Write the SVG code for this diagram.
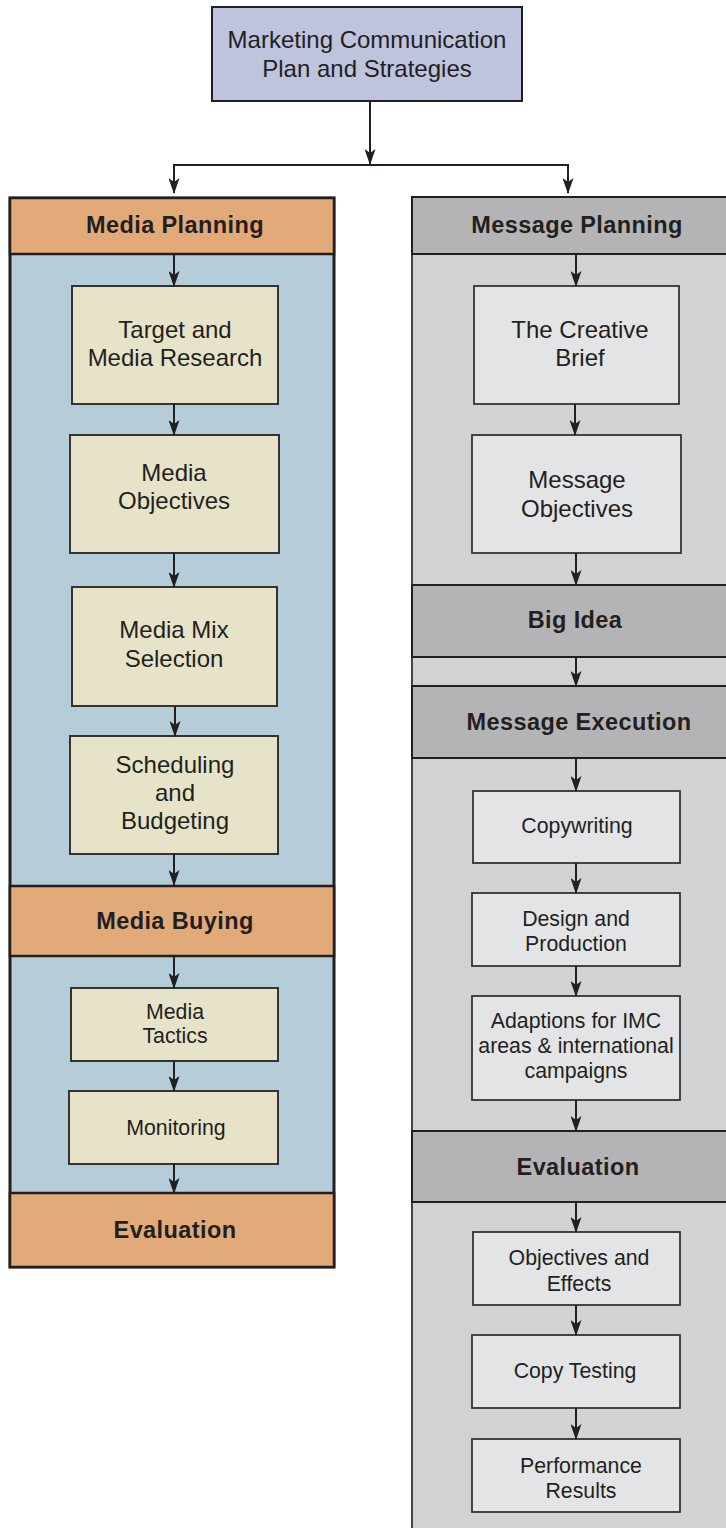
<svg xmlns="http://www.w3.org/2000/svg" width="726" height="1528" viewBox="0 0 726 1528">
<style>
text{font-family:"Liberation Sans",Arial,sans-serif;fill:#231f20;text-anchor:middle}
.t{font-size:24px}
.s{font-size:21.3px}
.h{font-size:23.5px;font-weight:bold;letter-spacing:0.4px}
.top{fill:#bec3de;stroke:#231f20;stroke-width:2}
.lp{fill:#b4cdd9;stroke:#231f20;stroke-width:3}
.lh{fill:#e3aa79;stroke:#231f20;stroke-width:2.5}
.lb{fill:#e6e3c8;stroke:#333;stroke-width:2}
.rp{fill:#d1d2d4;stroke:#444;stroke-width:2}
.rh{fill:#b4b4b6;stroke:#231f20;stroke-width:2}
.rb{fill:#e3e4e6;stroke:#333;stroke-width:1.8}
.c{fill:none;stroke:#231f20;stroke-width:2}
.a{marker-end:url(#ah)}
</style>
<defs>
<marker id="ah" viewBox="0 0 16 11" refX="15" refY="5.5" markerWidth="16" markerHeight="11" markerUnits="userSpaceOnUse" orient="auto">
<path d="M0,0 L16,5.5 L0,11 L4,5.5 z" fill="#231f20"/>
</marker>
</defs>
<rect width="726" height="1528" fill="#fff"/>

<g id="top">
<rect class="top" x="212" y="7" width="310" height="94"/>
<text class="t" x="367" y="48">Marketing Communication</text>
<text class="t" x="367" y="77">Plan and Strategies</text>
</g>

<g id="media-column">
<rect class="lp" x="10" y="198" width="324" height="1069"/>
<g id="media-planning"><rect class="lh" x="10" y="198" width="324" height="56"/><text class="h" x="175" y="233">Media Planning</text></g>
<g id="target-research"><rect class="lb" x="72" y="286" width="206" height="118"/><text class="t" x="175" y="338">Target and</text><text class="t" x="175" y="366">Media Research</text></g>
<g id="media-objectives"><rect class="lb" x="70" y="435" width="209" height="118"/><text class="t" x="174" y="481">Media</text><text class="t" x="174" y="509">Objectives</text></g>
<g id="media-mix"><rect class="lb" x="72" y="587" width="205" height="119"/><text class="t" x="174" y="638">Media Mix</text><text class="t" x="174" y="667">Selection</text></g>
<g id="scheduling"><rect class="lb" x="70" y="736" width="208" height="118"/><text class="t" x="175" y="773">Scheduling</text><text class="t" x="175" y="801">and</text><text class="t" x="175" y="829">Budgeting</text></g>
<g id="media-buying"><rect class="lh" x="10" y="886" width="324" height="70"/><text class="h" x="175" y="929">Media Buying</text></g>
<g id="media-tactics"><rect class="lb" x="71" y="988" width="207" height="73"/><text class="s" x="175" y="1019">Media</text><text class="s" x="175" y="1043">Tactics</text></g>
<g id="monitoring"><rect class="lb" x="69" y="1091" width="209" height="73"/><text class="s" x="176" y="1135">Monitoring</text></g>
<g id="media-evaluation"><rect class="lh" x="10" y="1193" width="324" height="74"/><text class="h" x="175" y="1238">Evaluation</text></g>
</g>

<g id="message-column">
<rect class="rp" x="412" y="197" width="330" height="1345"/>
<g id="message-planning"><rect class="rh" x="412" y="197" width="330" height="57"/><text class="h" x="577" y="233">Message Planning</text></g>
<g id="creative-brief"><rect class="rb" x="474" y="286" width="205" height="118"/><text class="t" x="580" y="338">The Creative</text><text class="t" x="580" y="366">Brief</text></g>
<g id="message-objectives"><rect class="rb" x="472" y="435" width="209" height="118"/><text class="t" x="577" y="488">Message</text><text class="t" x="577" y="517">Objectives</text></g>
<g id="big-idea"><rect class="rh" x="412" y="585" width="330" height="72"/><text class="h" x="575" y="628">Big Idea</text></g>
<g id="message-execution"><rect class="rh" x="412" y="686" width="330" height="72"/><text class="h" x="579" y="730">Message Execution</text></g>
<g id="copywriting"><rect class="rb" x="473" y="791" width="207" height="72"/><text class="s" x="577" y="833">Copywriting</text></g>
<g id="design-production"><rect class="rb" x="472" y="893" width="208" height="73"/><text class="s" x="576" y="926">Design and</text><text class="s" x="576" y="951">Production</text></g>
<g id="adaptions"><rect class="rb" x="472" y="996" width="208" height="104"/><text class="s" x="576" y="1028">Adaptions for IMC</text><text class="s" x="576" y="1053">areas &amp; international</text><text class="s" x="576" y="1078">campaigns</text></g>
<g id="message-evaluation"><rect class="rh" x="412" y="1131" width="330" height="71"/><text class="h" x="578" y="1175">Evaluation</text></g>
<g id="objectives-effects"><rect class="rb" x="473" y="1232" width="207" height="73"/><text class="s" x="579" y="1265">Objectives and</text><text class="s" x="579" y="1291">Effects</text></g>
<g id="copy-testing"><rect class="rb" x="472" y="1335" width="208" height="73"/><text class="s" x="575" y="1378">Copy Testing</text></g>
<g id="performance-results"><rect class="rb" x="472" y="1439" width="208" height="73"/><text class="s" x="581" y="1473">Performance</text><text class="s" x="581" y="1498">Results</text></g>
</g>

<g id="connectors">
<path class="c a" d="M370,101 V164"/>
<path class="c" d="M173,165 H568"/>
<path class="c a" d="M174,164 V193"/>
<path class="c a" d="M568,164 V193"/>

<path class="c a" d="M174,254 V286"/>
<path class="c a" d="M174,404 V435"/>
<path class="c a" d="M174,553 V587"/>
<path class="c a" d="M175,706 V736"/>
<path class="c a" d="M174,854 V885"/>
<path class="c a" d="M174,956 V988"/>
<path class="c a" d="M174,1061 V1091"/>
<path class="c a" d="M174,1164 V1193"/>

<path class="c a" d="M576,254 V286"/>
<path class="c a" d="M575,404 V435"/>
<path class="c a" d="M576,553 V585"/>
<path class="c a" d="M576,657 V686"/>
<path class="c a" d="M576,758 V791"/>
<path class="c a" d="M576,863 V893"/>
<path class="c a" d="M576,966 V996"/>
<path class="c a" d="M576,1100 V1131"/>
<path class="c a" d="M576,1202 V1232"/>
<path class="c a" d="M576,1305 V1335"/>
<path class="c a" d="M576,1408 V1439"/>
</g>
</svg>
